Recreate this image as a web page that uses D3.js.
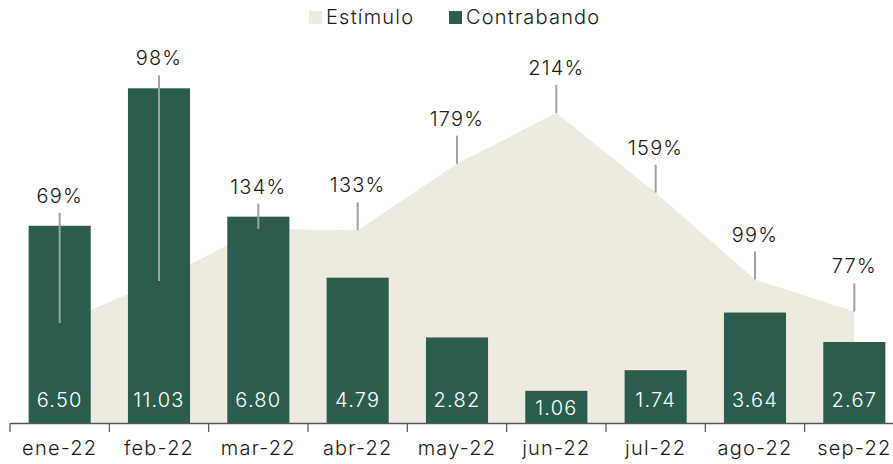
<!DOCTYPE html>
<html><head><meta charset="utf-8">
<script src="https://cdn.jsdelivr.net/npm/d3@7"></script>
<style>
html,body{margin:0;padding:0;background:#fff;}
svg{display:block;font-family:"Inter","DejaVu Sans",sans-serif;}
svg text{letter-spacing:1.2px;}
</style></head>
<body><svg id="chart" width="893" height="464"></svg>
<script>
const categories = ["ene-22","feb-22","mar-22","abr-22","may-22","jun-22","jul-22","ago-22","sep-22"];
const contrabando = [6.50,11.03,6.80,4.79,2.82,1.06,1.74,3.64,2.67];
const estimulo = [69,98,134,133,179,214,159,99,77];
const seriesNames = ["Estímulo","Contrabando"];
const colors = {est:"#edeae0", con:"#2a5d4e", lead:"#a0a0a0", axis:"#555"};

const svg = d3.select("#chart");
const base = 423, FS = 20;
const x = d3.scaleBand().domain(categories).range([10, 904]).paddingInner(0.375).paddingOuter(0.1875);
const yBar = d3.scaleLinear().domain([0, 13.94]).range([base, 0]);
const yPct = d3.scaleLinear().domain([0, 292]).range([base, 0]);
const cx = d => x(d) + x.bandwidth()/2;

// area
const area = d3.area().x((d,i)=>cx(categories[i])).y0(base).y1(d=>yPct(d)).curve(d3.curveLinear);
svg.append("path").datum(estimulo).attr("d", area).attr("fill", colors.est);

// bars
svg.append("g").selectAll("rect").data(contrabando).join("rect")
  .attr("x",(d,i)=>x(categories[i])).attr("width",x.bandwidth())
  .attr("y",d=>yBar(d)).attr("height",d=>base-yBar(d)).attr("fill",colors.con);

// bar labels
svg.append("g").selectAll("text").data(contrabando).join("text")
  .attr("x",(d,i)=>cx(categories[i]))
  .attr("y",d=>Math.max(base-23, yBar(d)+17))
  .attr("dy","0.35em").attr("text-anchor","middle")
  .attr("fill","#fff").attr("font-size",FS).attr("font-weight",300)
  .text(d=>d3.format(".2f")(d));

// leader lines + pct labels
const labelY = (v,i) => {
  const py = yPct(v), by = yBar(contrabando[i]);
  return by < py ? by - 30 : py - 45;
};
svg.append("g").selectAll("line").data(estimulo).join("line")
  .attr("x1",(d,i)=>cx(categories[i])).attr("x2",(d,i)=>cx(categories[i]))
  .attr("y1",d=>yPct(d)).attr("y2",(d,i)=>labelY(d,i)+17)
  .attr("stroke",colors.lead).attr("stroke-width",2);
svg.append("g").selectAll("text").data(estimulo).join("text")
  .attr("x",(d,i)=>cx(categories[i])).attr("y",(d,i)=>labelY(d,i))
  .attr("dy","0.35em").attr("text-anchor","middle")
  .attr("fill","#1a1a1a").attr("font-size",FS).attr("font-weight",300)
  .text(d=>d+"%");

// axis
const ax = svg.append("g").attr("transform",`translate(0,${base})`)
  .call(d3.axisBottom(x).tickSize(0).tickPadding(18));
ax.select(".domain").attr("stroke",colors.axis).attr("stroke-width",1.5);
ax.selectAll("text").attr("font-size",FS).attr("font-weight",300).attr("fill","#1a1a1a")
  .attr("font-family","Inter, DejaVu Sans, sans-serif");
const step = x.step(), off = step*x.paddingInner()/2;
const bounds = categories.map(c=>x(c)-off).concat([x(categories[categories.length-1])+x.bandwidth()+off]);
ax.selectAll(".bnd").data(bounds).join("line").attr("class","bnd")
  .attr("x1",d=>d).attr("x2",d=>d).attr("y1",0).attr("y2",9)
  .attr("stroke",colors.axis).attr("stroke-width",1.2);

// legend
const leg = svg.append("g").attr("transform","translate(0,17)");
const legItems = [{n:seriesNames[0],c:colors.est,x:309},{n:seriesNames[1],c:colors.con,x:449}];
legItems.forEach(it=>{
  leg.append("rect").attr("x",it.x).attr("y",-6).attr("width",13).attr("height",13).attr("fill",it.c);
  leg.append("text").attr("x",it.x+17).attr("y",0).attr("dy","0.35em")
    .attr("font-size",FS).attr("font-weight",300).attr("fill","#1a1a1a").text(it.n);
});
</script></body></html>
